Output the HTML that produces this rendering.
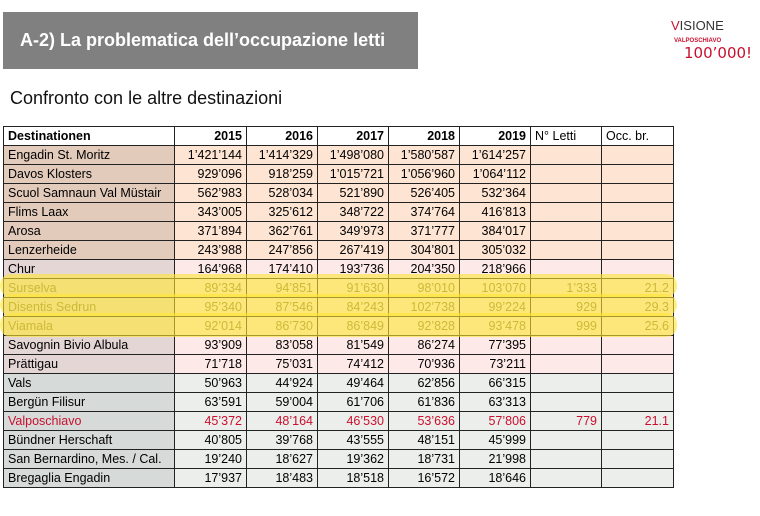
<!DOCTYPE html>
<html><head><meta charset="utf-8"><style>
body{margin:0;width:760px;height:516px;background:#fff;position:relative;overflow:hidden;font-family:"Liberation Sans",sans-serif}
.title{position:absolute;left:3px;top:12px;width:415px;height:57px;background:#808080;color:#fff;font-weight:bold;font-size:18px;line-height:57px;padding-left:17px;box-sizing:border-box}
.sub{position:absolute;left:10px;top:88px;font-size:18px;color:#111}
table{position:absolute;left:3px;top:126px;border-collapse:collapse;font-size:12.5px;table-layout:fixed}
td{height:18px;border:1px solid #222;padding:0 4px;text-align:right;white-space:nowrap;line-height:18px}
td:first-child{text-align:left}
tr.h td{font-weight:bold;background:#fff}
tr.h td:nth-child(7),tr.h td:nth-child(8){font-weight:normal;text-align:left}
tr.o td{background:#fde4d3} tr.o td:first-child{background:#e2cbbb}
tr.p td{background:#fde9e7} tr.p td:first-child{background:#e5d6d6}
tr.g td{background:#eceeeb} tr.g td:first-child{background:#d6dad8}
tr.y td{color:#7d7840}
tr.r td{color:#c8102e}
.hl{position:absolute;left:0;width:677px;background:rgba(255,230,50,0.6);border-radius:11px}
</style></head><body>
<div class="title">A-2) La problematica dell’occupazione letti</div>
<div style="position:absolute;left:671px;top:18px;font-size:13px;color:#333"><span style="color:#c8102e">V</span>ISIONE</div>
<div style="position:absolute;left:674px;top:38px;font-size:6px;color:#c8102e;font-weight:bold">VALPOSCHIAVO</div>
<div style="position:absolute;left:684px;top:44px;font-size:15px;color:#c8102e;font-family:'DejaVu Sans',sans-serif">100’000!</div>
<div class="sub">Confronto con le altre destinazioni</div>
<table>
<colgroup><col style="width:171px"><col style="width:72px"><col style="width:71px"><col style="width:71px"><col style="width:71px"><col style="width:71px"><col style="width:71px"><col style="width:72px"></colgroup>
<tr class="h"><td>Destinationen</td><td>2015</td><td>2016</td><td>2017</td><td>2018</td><td>2019</td><td>N° Letti</td><td>Occ. br.</td></tr>
<tr class="o"><td>Engadin St. Moritz</td><td>1’421’144</td><td>1’414’329</td><td>1’498’080</td><td>1’580’587</td><td>1’614’257</td><td></td><td></td></tr>
<tr class="o"><td>Davos Klosters</td><td>929’096</td><td>918’259</td><td>1’015’721</td><td>1’056’960</td><td>1’064’112</td><td></td><td></td></tr>
<tr class="o"><td>Scuol Samnaun Val Müstair</td><td>562’983</td><td>528’034</td><td>521’890</td><td>526’405</td><td>532’364</td><td></td><td></td></tr>
<tr class="o"><td>Flims Laax</td><td>343’005</td><td>325’612</td><td>348’722</td><td>374’764</td><td>416’813</td><td></td><td></td></tr>
<tr class="o"><td>Arosa</td><td>371’894</td><td>362’761</td><td>349’973</td><td>371’777</td><td>384’017</td><td></td><td></td></tr>
<tr class="o"><td>Lenzerheide</td><td>243’988</td><td>247’856</td><td>267’419</td><td>304’801</td><td>305’032</td><td></td><td></td></tr>
<tr class="p"><td>Chur</td><td>164’968</td><td>174’410</td><td>193’736</td><td>204’350</td><td>218’966</td><td></td><td></td></tr>
<tr class="p y"><td>Surselva</td><td>89’334</td><td>94’851</td><td>91’630</td><td>98’010</td><td>103’070</td><td>1’333</td><td>21.2</td></tr>
<tr class="p y"><td>Disentis Sedrun</td><td>95’340</td><td>87’546</td><td>84’243</td><td>102’738</td><td>99’224</td><td>929</td><td>29.3</td></tr>
<tr class="p y"><td>Viamala</td><td>92’014</td><td>86’730</td><td>86’849</td><td>92’828</td><td>93’478</td><td>999</td><td>25.6</td></tr>
<tr class="p"><td>Savognin Bivio Albula</td><td>93’909</td><td>83’058</td><td>81’549</td><td>86’274</td><td>77’395</td><td></td><td></td></tr>
<tr class="p"><td>Prättigau</td><td>71’718</td><td>75’031</td><td>74’412</td><td>70’936</td><td>73’211</td><td></td><td></td></tr>
<tr class="g"><td>Vals</td><td>50’963</td><td>44’924</td><td>49’464</td><td>62’856</td><td>66’315</td><td></td><td></td></tr>
<tr class="g"><td>Bergün Filisur</td><td>63’591</td><td>59’004</td><td>61’706</td><td>61’836</td><td>63’313</td><td></td><td></td></tr>
<tr class="g r"><td>Valposchiavo</td><td>45’372</td><td>48’164</td><td>46’530</td><td>53’636</td><td>57’806</td><td>779</td><td>21.1</td></tr>
<tr class="g"><td>Bündner Herschaft</td><td>40’805</td><td>39’768</td><td>43’555</td><td>48’151</td><td>45’999</td><td></td><td></td></tr>
<tr class="g"><td>San Bernardino, Mes. / Cal.</td><td>19’240</td><td>18’627</td><td>19’362</td><td>18’731</td><td>21’998</td><td></td><td></td></tr>
<tr class="g"><td>Bregaglia Engadin</td><td>17’937</td><td>18’483</td><td>18’518</td><td>16’572</td><td>18’646</td><td></td><td></td></tr>
</table>
<div class="hl" style="top:274px;height:23px"></div>
<div class="hl" style="top:294px;height:22px"></div>
<div class="hl" style="top:313px;height:24px"></div>
</body></html>
